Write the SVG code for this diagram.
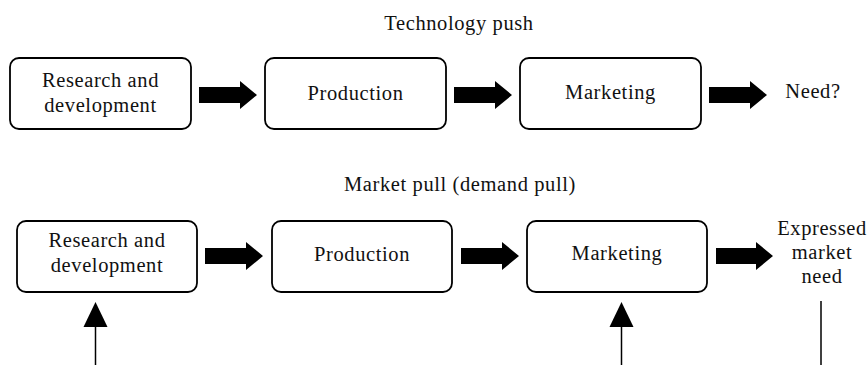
<svg xmlns="http://www.w3.org/2000/svg" width="868" height="365" viewBox="0 0 868 365">
<style>
.box{fill:#fff;stroke:#000;stroke-width:1.8}
.t{font-family:"Liberation Serif","Times New Roman",serif;font-size:20.5px;letter-spacing:0.6px;fill:#111;text-anchor:middle}
.ba{fill:#000}
.ln{stroke:#000;stroke-width:1.5;fill:none}
</style>
<rect width="868" height="365" fill="#fff"/>
<text class="t" x="459" y="30">Technology push</text>
<text class="t" x="460" y="191">Market pull (demand pull)</text>
<g id="tp-rd"><rect class="box" x="10" y="58" width="181" height="71" rx="9"/><text class="t" x="100.5" y="87">Research and</text><text class="t" x="100.5" y="112">development</text></g>
<g id="tp-prod"><rect class="box" x="265" y="58" width="181" height="71" rx="9"/><text class="t" x="355.5" y="100">Production</text></g>
<g id="tp-mkt"><rect class="box" x="520" y="58" width="181" height="71" rx="9"/><text class="t" x="610.5" y="99">Marketing</text></g>
<g id="tp-need"><text class="t" x="813" y="98">Need?</text></g>
<g id="mp-rd"><rect class="box" x="17" y="221" width="180" height="71" rx="9"/><text class="t" x="107" y="247">Research and</text><text class="t" x="107" y="272">development</text></g>
<g id="mp-prod"><rect class="box" x="272" y="221" width="180" height="71" rx="9"/><text class="t" x="362" y="261">Production</text></g>
<g id="mp-mkt"><rect class="box" x="527" y="221" width="180" height="71" rx="9"/><text class="t" x="617" y="260">Marketing</text></g>
<g id="mp-need"><text class="t" x="822" y="235">Expressed</text><text class="t" x="822" y="259">market</text><text class="t" x="822" y="283">need</text></g>
<g id="connectors">
<polygon class="ba" points="199,87 240,87 240,81 257,95 240,109 240,103 199,103"/>
<polygon class="ba" points="454,87 495,87 495,81 512,95 495,109 495,103 454,103"/>
<polygon class="ba" points="709,87 750,87 750,81 767,95 750,109 750,103 709,103"/>
<polygon class="ba" points="205,248 246,248 246,242 263,256 246,270 246,264 205,264"/>
<polygon class="ba" points="461,248 502,248 502,242 519,256 502,270 502,264 461,264"/>
<polygon class="ba" points="716,248 756,248 756,242 773,256 756,270 756,264 716,264"/>
<line class="ln" x1="95.5" y1="326" x2="95.5" y2="365"/>
<polygon class="ba" points="95.5,302 107.5,327 83.5,327"/>
<line class="ln" x1="621.5" y1="326" x2="621.5" y2="365"/>
<polygon class="ba" points="621.5,302 633.5,327 609.5,327"/>
<line class="ln" x1="821" y1="301" x2="821" y2="365"/>
</g>
</svg>
